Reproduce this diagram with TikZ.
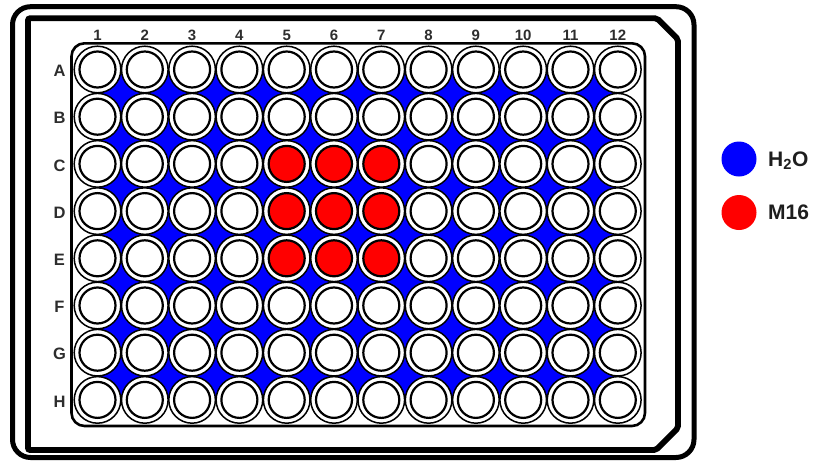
\documentclass[tikz,border=0pt]{standalone}
\usepackage{fontspec}
\setmainfont{Liberation Sans}
\definecolor{wblue}{RGB}{0,0,255}
\definecolor{wred}{RGB}{255,0,0}
\definecolor{lbl}{RGB}{45,45,45}
\definecolor{legt}{RGB}{30,30,30}
\begin{document}
\begin{tikzpicture}[x=1pt,y=-1pt,
  frame/.style={draw=black, line width=5pt},
  plate/.style={draw=black, line width=2.6pt, fill=white, rounded corners=13pt},
  wellout/.style={circle, draw=black, line width=1.5pt, fill=white, minimum size=46.6pt, inner sep=0pt},
  wellin/.style={circle, draw=black, line width=2.2pt, minimum size=36pt, inner sep=0pt},
  collbl/.style={text=lbl, font=\fontsize{15}{17}\selectfont\bfseries, inner sep=0pt},
  rowlbl/.style={text=lbl, font=\fontsize{16.5}{19}\selectfont\bfseries, inner sep=0pt},
  legdot/.style={circle, minimum size=35pt, inner sep=0pt},
  legtxt/.style={text=legt, font=\fontsize{21}{24}\selectfont\bfseries, inner sep=0pt, anchor=base west}]
\useasboundingbox (0,0) rectangle (815,461);
% outer frame
\draw[frame, rounded corners=18pt] (12.5,6.7) rectangle (694,457.5);
% inner frame with chamfered right corners
\draw[frame, line width=5.8pt, rounded corners=2pt] (28,18.3) -- (657,18.3) -- (678,39.3) -- (678,428) -- (656,450) -- (28,450) -- cycle;
% plate
\draw[plate] (71.5,43.3) rectangle (645,426);
% blue interstitial fill
\fill[wblue] (97.5,69.5) rectangle (617.8,399.9);
% column labels
\foreach \c in {1,...,12} {
  \node[collbl] (c\c) at ({97.5+47.3*(\c-1)}, 35.5) {\c};
}
% rows of wells
\foreach \r [count=\i] in {A,B,C,D,E,F,G,H} {
  \node[rowlbl] (r\r) at (59.5, {69.5+47.2*(\i-1)+1.5}) {\r};
  \foreach \c in {1,...,12} {
    \pgfmathtruncatemacro\isred{(\i>=3)&&(\i<=5)&&(\c>=5)&&(\c<=7)}
    \ifnum\isred=1 \def\wf{wred}\else\def\wf{white}\fi
    \node[wellout] (o\r\c) at ({97.5+47.3*(\c-1)}, {69.5+47.2*(\i-1)}) {};
    \node[wellin, fill=\wf] (w\r\c) at (o\r\c) {};
  }
}
% legend
\node[legdot, fill=wblue] (lh) at (739,159) {};
\node[legtxt] (th) at (768,166) {H\textsubscript{2}O};
\node[legdot, fill=wred] (lm) at (739,212.5) {};
\node[legtxt] (tm) at (768,219.5) {M16};
\end{tikzpicture}
\end{document}
